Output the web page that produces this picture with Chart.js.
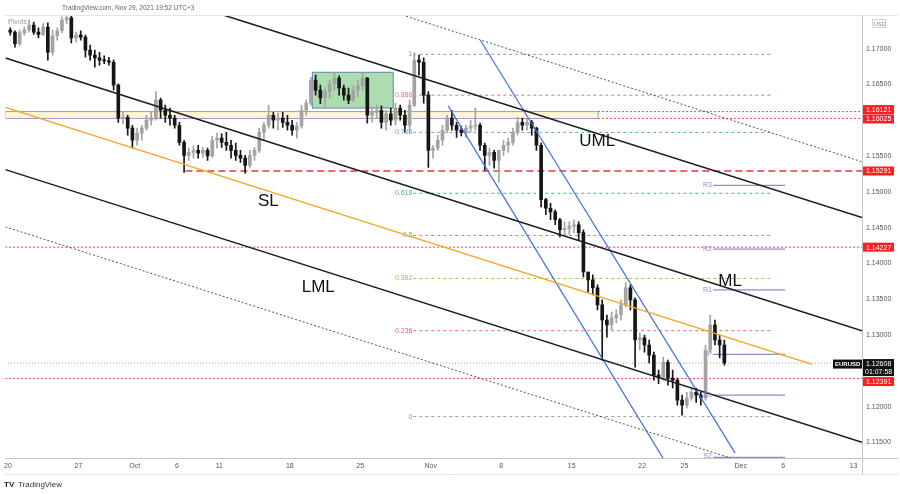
<!DOCTYPE html>
<html>
<head>
<meta charset="utf-8">
<script src="https://cdn.jsdelivr.net/npm/chart.js@4.4.0/dist/chart.umd.min.js"></script>
<style>
html,body{margin:0;padding:0;background:#fff}
</style>
</head>
<body>
<canvas id="chart" width="900" height="494"></canvas>
<script>
/*************** Data (EURUSD, 8h bars from Sep 20) ****************/

var barsPerDay = 3;
var firstOpen = 1.1726;

var closes = [
1.1723,1.1707,1.1722,1.1726,1.1733,1.1723,1.1720,1.1730,1.1695,1.1718,
1.1725,1.1740,1.1743,1.1715,1.1719,1.1716,1.1698,1.1691,1.1687,1.1684,
1.1683,1.1681,1.1649,1.1603,1.1604,1.1589,1.1572,1.1582,1.1589,1.1600,
1.1603,1.1628,1.1614,1.1607,1.1603,1.1593,1.1569,1.1551,1.1555,1.1558,
1.1554,1.1558,1.1550,1.1572,1.1575,1.1569,1.1565,1.1558,1.1551,1.1547,
1.1537,1.1551,1.1558,1.1583,1.1593,1.1607,1.1600,1.1603,1.1597,1.1593,
1.1586,1.1592,1.1614,1.1624,1.1656,1.1642,1.1631,1.1640,1.1651,1.1659,
1.1645,1.1635,1.1628,1.1642,1.1648,1.1659,1.1607,1.1611,1.1614,1.1597,
1.1609,1.1600,1.1617,1.1607,1.1593,1.1621,1.1684,1.1681,1.1635,1.1558,
1.1561,1.1572,1.1586,1.1603,1.1593,1.1586,1.1583,1.1589,1.1592,1.1593,
1.1565,1.1551,1.1555,1.1544,1.1558,1.1565,1.1569,1.1583,1.1597,1.1593,
1.1597,1.1589,1.1565,1.1489,1.1477,1.1472,1.1461,1.1447,1.1449,1.1452,
1.1454,1.1443,1.1388,1.1377,1.1366,1.1342,1.1321,1.1314,1.1324,1.1328,
1.1342,1.1366,1.1349,1.1293,1.1296,1.1286,1.1272,1.1244,1.1240,1.1262,
1.1240,1.1237,1.1209,1.1202,1.1212,1.1220,1.1216,1.1212,1.1279,1.1314,
1.1293,1.1286,1.1261
];
var highs = [
1.1729,1.1725,1.1726,1.1730,1.1740,1.1737,1.1729,1.1735,1.1736,1.1726,
1.1729,1.1744,1.1747,1.1746,1.1723,1.1725,1.1719,1.1705,1.1698,1.1695,
1.1690,1.1688,1.1684,1.1651,1.1611,1.1607,1.1593,1.1589,1.1593,1.1607,
1.1611,1.1640,1.1631,1.1621,1.1617,1.1607,1.1597,1.1572,1.1561,1.1564,
1.1565,1.1562,1.1561,1.1578,1.1582,1.1581,1.1583,1.1572,1.1568,1.1558,
1.1551,1.1558,1.1562,1.1589,1.1597,1.1621,1.1611,1.1610,1.1611,1.1607,
1.1600,1.1597,1.1621,1.1628,1.1660,1.1663,1.1649,1.1645,1.1656,1.1667,
1.1662,1.1649,1.1645,1.1648,1.1656,1.1666,1.1660,1.1617,1.1621,1.1620,
1.1614,1.1617,1.1624,1.1621,1.1614,1.1628,1.1694,1.1691,1.1687,1.1640,
1.1565,1.1579,1.1593,1.1607,1.1614,1.1597,1.1592,1.1593,1.1600,1.1617,
1.1596,1.1568,1.1561,1.1558,1.1558,1.1572,1.1575,1.1589,1.1604,1.1603,
1.1603,1.1600,1.1590,1.1568,1.1491,1.1484,1.1475,1.1463,1.1458,1.1458,
1.1461,1.1458,1.1447,1.1388,1.1384,1.1370,1.1349,1.1328,1.1332,1.1335,
1.1349,1.1373,1.1370,1.1352,1.1303,1.1300,1.1293,1.1276,1.1251,1.1269,
1.1265,1.1251,1.1240,1.1216,1.1220,1.1226,1.1226,1.1220,1.1286,1.1328,
1.1321,1.1300,1.1293
];
var lows = [
1.1719,1.1702,1.1704,1.1719,1.1723,1.1720,1.1715,1.1718,1.1684,1.1691,
1.1712,1.1722,1.1735,1.1708,1.1709,1.1712,1.1688,1.1684,1.1674,1.1677,
1.1679,1.1677,1.1642,1.1597,1.1595,1.1579,1.1561,1.1565,1.1572,1.1586,
1.1593,1.1600,1.1603,1.1597,1.1593,1.1589,1.1565,1.1527,1.1544,1.1547,
1.1547,1.1548,1.1544,1.1548,1.1561,1.1562,1.1558,1.1547,1.1544,1.1541,
1.1526,1.1534,1.1544,1.1555,1.1572,1.1589,1.1589,1.1586,1.1590,1.1586,
1.1579,1.1575,1.1589,1.1607,1.1621,1.1635,1.1623,1.1619,1.1631,1.1642,
1.1635,1.1628,1.1623,1.1626,1.1633,1.1642,1.1596,1.1597,1.1603,1.1589,
1.1586,1.1593,1.1593,1.1600,1.1583,1.1582,1.1619,1.1663,1.1624,1.1534,
1.1547,1.1558,1.1565,1.1583,1.1586,1.1576,1.1578,1.1576,1.1583,1.1586,
1.1558,1.1530,1.1537,1.1533,1.1513,1.1551,1.1555,1.1565,1.1579,1.1586,
1.1586,1.1579,1.1558,1.1479,1.1468,1.1461,1.1454,1.1437,1.1438,1.1440,
1.1443,1.1433,1.1381,1.1360,1.1356,1.1335,1.1265,1.1297,1.1307,1.1317,
1.1321,1.1339,1.1335,1.1255,1.1279,1.1276,1.1261,1.1237,1.1232,1.1237,
1.1230,1.1226,1.1202,1.1188,1.1198,1.1209,1.1206,1.1202,1.1209,1.1276,
1.1286,1.1268,1.1258
];

// axis ticks (x in trading days from Sep 20)
var dayTicks  = [0, 5, 9, 12, 15, 20, 25, 30, 35, 40, 45, 48, 52, 55, 60];
var dayLabels = ['20','27','Oct','6','11','18','25','Nov','8','15','22','25','Dec','6','13'];
var priceTicks = [1.17, 1.165, 1.155, 1.15, 1.145, 1.14, 1.135, 1.13, 1.12, 1.115];

// levels
var zoneTop = 1.16121, zoneBottom = 1.16025;
var keyLevel = 1.15291;
var redLevels = [1.14227, 1.12391];
var lastPrice = 1.12608;
var fibRatios = ['1','0.886','0.786','0.618','0.5','0.382','0.236','0'];
var fibPrices = [1.1692, 1.1635, 1.1583, 1.1498, 1.1439, 1.1379, 1.1306, 1.1186];
var pivotNames  = ['R3','R2','R1','P','S1','S2'];
var pivotPrices = [1.1509, 1.1420, 1.1363, 1.1273, 1.1216, 1.1129];
var boxTop = 1.1667, boxBottom = 1.1617;

/*************** Building datasets ****************/

var bodies = [], wicks = [], candleColors = [];
var prevClose = firstOpen;
for (var i = 0; i < closes.length; i++) {
    var t = (i + 0.5) / barsPerDay;
    bodies.push({x: t, y: [prevClose, closes[i]]});
    wicks.push({x: t, y: [lows[i], highs[i]]});
    candleColors.push(closes[i] >= prevClose ? '#a3a3a3' : '#161616');
    prevClose = closes[i];
}

function seg(x1, y1, x2, y2, color, width, dash, order) {
    return {
        type: 'line',
        data: [{x: x1, y: y1}, {x: x2, y: y2}],
        borderColor: color, borderWidth: width, borderDash: dash || [],
        pointRadius: 0, fill: false, tension: 0, order: order
    };
}

var fibColors = ['#9a9a9a','#e57373','#5aaed6','#3fb89b','#9a9a9a','#a8c83c','#e06b6b','#9a9a9a'];

var datasets = [
    {type: 'bar', data: wicks, backgroundColor: candleColors, barThickness: 1, grouped: false, order: 4},
    {type: 'bar', data: bodies, backgroundColor: candleColors, barThickness: 3, grouped: false, minBarLength: 1, order: 3}
];

// horizontal levels (behind candles)
datasets.push(seg(41.88, zoneTop, 60.6, zoneTop, '#f04848', 1, [2, 2], 6));
datasets.push(seg(41.88, zoneBottom, 60.6, zoneBottom, '#f04848', 1, [2, 2], 6));
datasets.push(seg(12.59, keyLevel, 60.6, keyLevel, '#e53935', 1.5, [7, 4], 6));
redLevels.forEach(function (p) {
    datasets.push(seg(-0.2, p, 60.6, p, '#f04848', 1, [2, 2], 6));
});
datasets.push(seg(-0.2, lastPrice, 60.6, lastPrice, '#9a9a9a', 1, [1, 2], 6));
fibPrices.forEach(function (p, k) {
    datasets.push(seg(28.76, p, 54.15, p, fibColors[k], 1, [3, 3], 6));
});
pivotPrices.forEach(function (p) {
    datasets.push(seg(50.04, p, 55.14, p, '#9a86cc', 1.2, [], 6));
});

// pitchfork, channels, trend lines (on top)
datasets.push(seg(15.28, 1.1747, 60.6, 1.1464, '#1b1b1b', 1.5, [], 1));  // UML
datasets.push(seg(-0.18, 1.1687, 60.6, 1.1306, '#1b1b1b', 1.5, [], 1));  // ML
datasets.push(seg(-0.18, 1.1531, 60.6, 1.1150, '#1b1b1b', 1.5, [], 1));  // LML
datasets.push(seg(27.98, 1.1747, 60.6, 1.1542, '#555', 1, [2, 2], 1));   // upper warning
datasets.push(seg(-0.18, 1.1451, 51.95, 1.1124, '#555', 1, [2, 2], 1));  // lower warning
datasets.push(seg(-0.18, 1.1618, 57.06, 1.1259, '#f5a623', 1.5, [], 1)); // SL
datasets.push(seg(33.51, 1.1712, 51.6, 1.1135, '#3f6fe0', 1.2, [], 1));  // blue channel
datasets.push(seg(31.24, 1.1620, 46.7, 1.1121, '#3f6fe0', 1.2, [], 1));

/*************** Drawing extras ****************/

var labelFont = "'Liberation Sans', Arial, sans-serif";

var overlay = {
    id: 'overlay',
    beforeDatasetsDraw: function (chart) {
        var ctx = chart.ctx, x = chart.scales.x, y = chart.scales.y, a = chart.chartArea;
        ctx.save();
        ctx.beginPath();
        ctx.rect(a.left, a.top, a.right - a.left, a.bottom - a.top);
        ctx.clip();
        // support zone
        var x1 = x.getPixelForValue(-0.2), x2 = x.getPixelForValue(41.88);
        var y1 = y.getPixelForValue(zoneTop), y2 = y.getPixelForValue(zoneBottom);
        ctx.fillStyle = 'rgba(255,238,180,0.55)';
        ctx.fillRect(x1, y1, x2 - x1, y2 - y1);
        ctx.strokeStyle = '#a395d2';
        ctx.lineWidth = 1;
        ctx.strokeRect(x1, y1, x2 - x1, y2 - y1);
        // green range box
        var bx1 = x.getPixelForValue(21.6), bx2 = x.getPixelForValue(27.34);
        var by1 = y.getPixelForValue(boxTop), by2 = y.getPixelForValue(boxBottom);
        ctx.fillStyle = 'rgba(90,185,95,0.5)';
        ctx.fillRect(bx1, by1, bx2 - bx1, by2 - by1);
        ctx.strokeStyle = '#5f86ad';
        ctx.strokeRect(bx1, by1, bx2 - bx1, by2 - by1);
        ctx.restore();
    },
    afterDatasetsDraw: function (chart) {
        var ctx = chart.ctx, x = chart.scales.x, y = chart.scales.y;
        ctx.save();
        ctx.textBaseline = 'middle';
        // fib labels
        ctx.font = '7px ' + labelFont;
        ctx.textAlign = 'right';
        fibPrices.forEach(function (p, k) {
            ctx.fillStyle = fibColors[k];
            ctx.fillText(fibRatios[k], x.getPixelForValue(28.7), y.getPixelForValue(p));
        });
        // pivot labels
        ctx.fillStyle = '#9a86cc';
        pivotPrices.forEach(function (p, k) {
            var py = Math.min(y.getPixelForValue(p), 456);
            ctx.fillText(pivotNames[k], x.getPixelForValue(49.95), py);
        });
        ctx.textAlign = 'left';
        ctx.fillStyle = '#999';
        ctx.fillText('Pivots', 8, 22);
        // big names
        ctx.font = '17px ' + labelFont;
        ctx.fillStyle = '#111';
        ctx.textAlign = 'center';
        ctx.fillText('SL', x.getPixelForValue(18.48), y.getPixelForValue(1.1487));
        ctx.fillText('UML', x.getPixelForValue(41.81), y.getPixelForValue(1.1570));
        ctx.fillText('ML', x.getPixelForValue(51.24), y.getPixelForValue(1.1375));
        ctx.fillText('LML', x.getPixelForValue(22.02), y.getPixelForValue(1.1366));
        ctx.restore();
    },
    afterDraw: function (chart) {
        var ctx = chart.ctx, y = chart.scales.y, a = chart.chartArea;
        ctx.save();
        // frame
        ctx.strokeStyle = '#e3e5ea';
        ctx.lineWidth = 1;
        ctx.beginPath();
        ctx.moveTo(a.left, 15.5); ctx.lineTo(898, 15.5);
        ctx.moveTo(a.left, 474.5); ctx.lineTo(898, 474.5);
        ctx.stroke();
        ctx.strokeStyle = '#c4c6cc';
        ctx.beginPath();
        ctx.moveTo(a.right, a.bottom + 0.5); ctx.lineTo(898, a.bottom + 0.5);
        ctx.moveTo(a.right + 0.5, a.top); ctx.lineTo(a.right + 0.5, 474);
        ctx.stroke();

        ctx.textBaseline = 'middle';
        ctx.textAlign = 'left';
        ctx.font = '7px ' + labelFont;
        function tag(yc, text, bg) {
            ctx.fillStyle = bg;
            ctx.fillRect(a.right + 1, yc - 4.5, 31, 9);
            ctx.fillStyle = '#fff';
            ctx.fillText(text, a.right + 4, yc + 0.5);
        }
        tag(y.getPixelForValue(zoneTop) - 2, '1.16121', '#ff1e1e');
        tag(y.getPixelForValue(zoneBottom) + 0.5, '1.16025', '#ff1e1e');
        tag(y.getPixelForValue(keyLevel), '1.15291', '#ff1e1e');
        tag(y.getPixelForValue(redLevels[0]), '1.14227', '#ff1e1e');
        var ly = y.getPixelForValue(lastPrice);
        tag(ly + 18.5, '1.12391', '#ff1e1e');
        // last price box
        ctx.fillStyle = '#111';
        ctx.fillRect(a.right + 1, ly - 4, 31, 17);
        ctx.fillRect(a.right - 29, ly - 3.5, 29, 9);
        ctx.fillStyle = '#fff';
        ctx.fillText(lastPrice.toFixed(5), a.right + 4, ly + 1);
        ctx.fillText('01:07:58', a.right + 3, ly + 9);
        ctx.font = 'bold 6px ' + labelFont;
        ctx.fillText('EURUSD', a.right - 27, ly + 1);
        // currency
        ctx.strokeStyle = '#d0d2d8';
        ctx.strokeRect(872.5, 19.5, 13, 8);
        ctx.fillStyle = '#888';
        ctx.font = '5.5px ' + labelFont;
        ctx.fillText('USD', 874, 24);
        // header and footer
        ctx.font = '6.5px ' + labelFont;
        ctx.fillStyle = '#666';
        ctx.fillText('TradingView.com, Nov 29, 2021 19:52 UTC+3', 62, 8);
        ctx.font = 'bold 8px ' + labelFont;
        ctx.fillStyle = '#222';
        ctx.fillText('TV', 4, 485);
        ctx.font = '8px ' + labelFont;
        ctx.fillStyle = '#333';
        ctx.fillText('TradingView', 18, 485);
        ctx.restore();
    }
};

/*************** Creating chart ****************/

var chart = new Chart(document.getElementById('chart'), {
    type: 'bar',
    data: {datasets: datasets},
    plugins: [overlay],
    options: {
        responsive: false,
        animation: false,
        events: [],
        layout: {padding: {left: 5, top: 15, right: 0, bottom: 0}},
        plugins: {legend: {display: false}, tooltip: {enabled: false}},
        scales: {
            x: {
                type: 'linear', min: -0.18, max: 60.6, offset: false,
                grid: {display: false, drawTicks: false},
                border: {display: true, color: '#c4c6cc'},
                ticks: {
                    autoSkip: false, maxRotation: 0, padding: 4,
                    color: '#555', font: {size: 7, family: labelFont},
                    callback: function (v, idx) { return dayLabels[idx]; }
                },
                afterBuildTicks: function (s) { s.ticks = dayTicks.map(function (v) { return {value: v}; }); },
                afterFit: function (s) { s.height = 36; }
            },
            y: {
                type: 'linear', position: 'right', min: 1.11282, max: 1.1747,
                grid: {display: false, drawTicks: false},
                border: {display: true, color: '#c4c6cc'},
                ticks: {
                    autoSkip: false, padding: 4,
                    color: '#555', font: {size: 7, family: labelFont},
                    callback: function (v) { return v.toFixed(5); }
                },
                afterBuildTicks: function (s) { s.ticks = priceTicks.map(function (v) { return {value: v}; }); },
                afterFit: function (s) { s.width = 38; }
            }
        }
    }
});
</script>
</body>
</html>
